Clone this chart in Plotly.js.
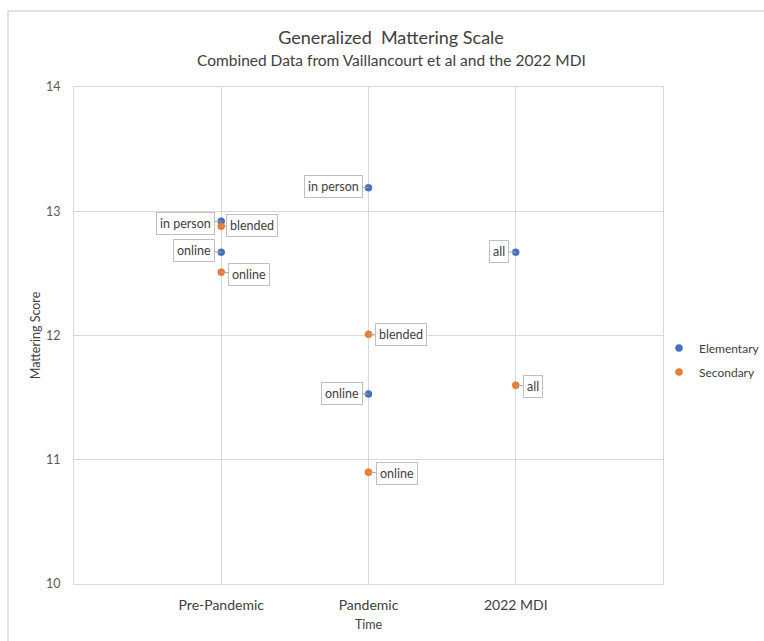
<!DOCTYPE html>
<html>
<head>
<meta charset="utf-8">
<script src="https://cdn.plot.ly/plotly-3.0.1.min.js"></script>
<style>html,body{margin:0;padding:0;background:#fff;}#chart{width:764px;height:641px;}</style>
</head>
<body>
<div id="chart"></div>
<script>
const categories = ["Pre-Pandemic", "Pandemic", "2022 MDI"];
const yTicks = [10, 11, 12, 13, 14];

const elemX = ["Pre-Pandemic", "Pre-Pandemic", "Pandemic", "Pandemic", "2022 MDI"];
const elemY = [12.92, 12.67, 13.19, 11.53, 12.67];
const elemLabels = ["in person", "online", "in person", "online", "all"];

const secX = ["Pre-Pandemic", "Pre-Pandemic", "Pandemic", "Pandemic", "2022 MDI"];
const secY = [12.88, 12.51, 12.01, 10.90, 11.60];
const secLabels = ["blended", "online", "blended", "online", "all"];

const FONT = "Lato, Carlito, 'Open Sans', sans-serif";
const BLUE = "#4472C4", ORANGE = "#ED7D31";

// label offsets (pixels) from each point
const elemOff = [[-36, 2], [-27, -2], [-35, -1], [-27, 0], [-17, -1]];
const secOff = [[31, -1], [28, 2], [32, 0], [28, 1], [17, 1]];

const annotations = [];
function addLabels(xs, ys, labels, offs) {
  xs.forEach((x, i) => {
    annotations.push({
      x: x, y: ys[i], xref: "x", yref: "y",
      text: labels[i], showarrow: true, arrowhead: 0, arrowwidth: 1,
      arrowcolor: "#A6A6A6", ax: offs[i][0], ay: offs[i][1],
      bordercolor: "#BFBFBF", borderwidth: 1, borderpad: 3, bgcolor: "#FFFFFF",
      font: {family: FONT, size: 12.5, color: "#404040"}
    });
  });
}
addLabels(elemX, elemY, elemLabels, elemOff);
addLabels(secX, secY, secLabels, secOff);

annotations.push({
  text: "Combined Data from Vaillancourt et al and the 2022 MDI",
  xref: "paper", yref: "paper", x: (391 - 74) / 589, y: 1 + (87 - 60) / 497,
  xanchor: "center", yanchor: "middle", showarrow: false,
  font: {family: FONT, size: 15.5, color: "#404040"}
});

const traces = [
  {type: "scatter", mode: "markers", name: "Elementary", legendgroup: "e", x: elemX, y: elemY,
   marker: {color: BLUE, size: 7, line: {color: "#3A62AC", width: 0.5}}},
  {type: "scatter", mode: "markers", name: "Secondary", legendgroup: "s", x: secX, y: secY,
   marker: {color: ORANGE, size: 7, line: {color: "#D06A25", width: 0.5}}}
];

const layout = {
  width: 764, height: 641,
  margin: {l: 74, r: 101, t: 87, b: 57, autoexpand: false},
  paper_bgcolor: "#FFFFFF", plot_bgcolor: "#FFFFFF",
  font: {family: FONT, color: "#404040"},
  title: {
    text: "Generalized  Mattering Scale",
    font: {family: FONT, size: 18, color: "#404040"},
    xref: "container", x: 391 / 764, xanchor: "center",
    yref: "container", y: 1 - 38 / 641, yanchor: "middle"
  },
  xaxis: {
    type: "category", categoryorder: "array", categoryarray: categories,
    range: [-1, 3], showgrid: true, gridcolor: "#D9D9D9", gridwidth: 1,
    showline: true, linecolor: "#D9D9D9", mirror: true, zeroline: false,
    ticks: "", ticklabelstandoff: 8, tickfont: {family: FONT, size: 14, color: "#404040"},
    title: {text: "Time", font: {family: FONT, size: 12.5, color: "#404040"}, standoff: 8}
  },
  yaxis: {
    range: [10, 14], tickvals: yTicks, showgrid: true, gridcolor: "#D9D9D9",
    showline: true, linecolor: "#D9D9D9", mirror: true, zeroline: false,
    ticks: "", ticklabelstandoff: 10,
    tickfont: {family: FONT, size: 12.5, color: "#595959"},
    title: {text: "Mattering Score", font: {family: FONT, size: 12.5, color: "#404040"}, standoff: 2}
  },
  legend: {
    x: (659 - 74) / 589, xanchor: "left", y: (584 - 360) / 497, yanchor: "middle",
    bgcolor: "rgba(0,0,0,0)",
    font: {family: FONT, size: 12, color: "#404040"},
    tracegroupgap: 5
  },
  annotations: annotations,
  shapes: [
    {type: "line", xref: "paper", yref: "paper", x0: -66 / 589, x1: 700 / 589,
     y0: 1 + 76 / 497, y1: 1 + 76 / 497, line: {color: "#D9D9D9", width: 1.5}},
    {type: "line", xref: "paper", yref: "paper", x0: -66 / 589, x1: -66 / 589,
     y0: 1 + 76 / 497, y1: -60 / 497, line: {color: "#D9D9D9", width: 1.5}}
  ]
};

Plotly.newPlot("chart", traces, layout, {displayModeBar: false, staticPlot: true});
</script>
</body>
</html>
